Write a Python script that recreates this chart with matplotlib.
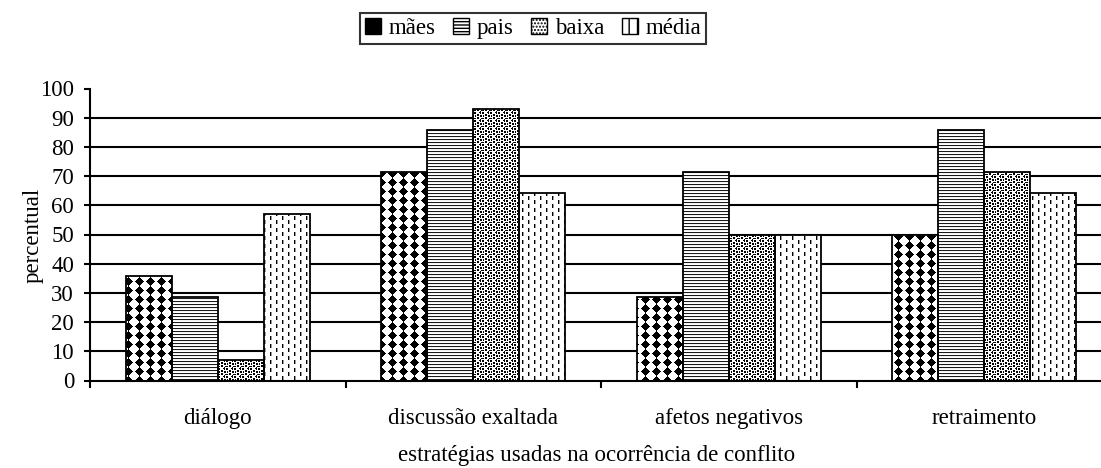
import numpy as np
import matplotlib
matplotlib.use("Agg")
import matplotlib.pyplot as plt
from matplotlib.path import Path
from matplotlib.patches import Patch

# ---------------- data ----------------
categories = ["diálogo", "discussão exaltada", "afetos negativos", "retraimento"]
series_names = ["mães", "pais", "baixa", "média"]
maes = [35.7, 71.4, 28.6, 50.0]
pais = [28.6, 85.7, 71.4, 85.7]
baixa = [7.1, 92.9, 50.0, 71.4]
media = [57.1, 64.3, 50.0, 64.3]
yticks = [0, 10, 20, 30, 40, 50, 60, 70, 80, 90, 100]
gridlines = [10, 20, 30, 40, 50, 60, 70, 80, 90]
xlabel = "estratégias usadas na ocorrência de conflito"
ylabel = "percentual"

series_values = [maes, pais, baixa, media]

# ---------------- texture tiles (1 = white, 0 = black) ----------------
def tile_maes():
    tw, th = 11, 9
    t = np.ones((th, tw))
    cx, cy = (tw - 1) / 2, (th - 1) / 2
    for y in range(th):
        for x in range(tw):
            dx, dy = abs(x - cx) / 4.4, abs(y - cy) / 4.0
            if dx ** 1.3 + dy ** 1.3 <= 1.0:
                t[y, x] = 0
    return t

def tile_pais():
    return np.array([[0.1], [0.95], [1.0]])

def tile_baixa():
    rows = ["##...##.",
            "##....#.",
            "...##...",
            ".#.##.##",
            ".#....##",
            "...##...",
            "##.##..#",
            "......#."]
    return np.array([[0.0 if c == "#" else 1.0 for c in r] for r in rows])

def tile_media():
    tw, th = 12, 8
    t = np.ones((th, tw))
    t[0:4, 0] = 0.0
    t[0:4, 1] = 0.6
    t[4:8, 6] = 0.0
    t[4:8, 7] = 0.6
    return t

tiles = [tile_maes(), tile_pais(), tile_baixa(), tile_media()]

# ---------------- figure ----------------
SERIF = ['Liberation Serif', 'DejaVu Serif']
plt.rcParams['font.family'] = SERIF
FS = 16.5
fig = plt.figure(figsize=(11.01, 4.68), dpi=100)
W_FIG, H_FIG = 1101, 468
ax_left, ax_right = 90, 1112
ax_top, ax_bottom = 88.5, 380.5
ax = fig.add_axes([ax_left / W_FIG, 1 - ax_bottom / H_FIG,
                   (ax_right - ax_left) / W_FIG, (ax_bottom - ax_top) / H_FIG])

n_cat = len(categories)
centers = np.arange(n_cat) + 0.5
bw = 0.18
offsets = (np.arange(len(series_names)) - 1.5) * bw

XLIM = (0, n_cat)
YLIM = (0, 100)

for g in gridlines:
    ax.axhline(g, color='black', lw=1.5, zorder=1)

bbox = ax.get_window_extent()
Wpx, Hpx = int(round(bbox.width)), int(round(bbox.height))

for i, (name, vals) in enumerate(zip(series_names, series_values)):
    bars = ax.bar(centers + offsets[i], vals, width=bw, color='white',
                  edgecolor='none', zorder=2)
    paths = [p.get_path().transformed(p.get_patch_transform()) for p in bars.patches]
    comp = Path.make_compound_path(*paths)
    t = tiles[i]
    th, tw = t.shape
    img = np.tile(t, (Hpx // th + 2, Wpx // tw + 2))[:Hpx, :Wpx]
    im = ax.imshow(img, cmap='gray', vmin=0, vmax=1, extent=(XLIM[0], XLIM[1], YLIM[0], YLIM[1]),
                   aspect='auto', interpolation='nearest', origin='upper', zorder=2.5)
    im.set_clip_path(comp, ax.transData)
    ax.bar(centers + offsets[i], vals, width=bw, fill=False,
           edgecolor='black', lw=1.3, zorder=3)

ax.set_xlim(*XLIM)
ax.set_ylim(*YLIM)
ax.set_aspect('auto')

for s in ['top', 'right']:
    ax.spines[s].set_visible(False)
for s in ['left', 'bottom']:
    ax.spines[s].set_linewidth(1.5)
    ax.spines[s].set_zorder(4)

ax.set_yticks(yticks)
ax.set_yticklabels([str(v) for v in yticks], fontsize=FS, family=SERIF)
ax.tick_params(axis='y', direction='out', length=4.5, width=1.5, pad=7)

ax.set_xticks(np.arange(n_cat + 1))
ax.set_xticklabels([])
ax.tick_params(axis='x', which='major', direction='out', length=5, width=1.5)
ax.set_xticks(centers, minor=True)
ax.set_xticklabels(categories, minor=True, fontsize=FS, family=SERIF)
ax.tick_params(axis='x', which='minor', length=0, pad=20)

fig.text(597 / W_FIG, 1 - 455 / H_FIG, xlabel, ha='center', va='center',
         fontsize=FS, family=SERIF)
fig.text(33 / W_FIG, 1 - 235 / H_FIG, ylabel, ha='center', va='center',
         rotation=90, fontsize=FS, family=SERIF)

plt.rcParams['hatch.linewidth'] = 1.0
handles = [
    Patch(facecolor='black', edgecolor='black', lw=1.0),
    Patch(facecolor='white', edgecolor='black', hatch='-----', lw=1.0),
    Patch(facecolor='white', edgecolor='black', hatch='.....', lw=1.0),
    Patch(facecolor='white', edgecolor='black', hatch='||', lw=1.0),
]
leg = fig.legend(handles, series_names, loc='center',
                 bbox_to_anchor=(533 / W_FIG, 1 - 28.5 / H_FIG), ncol=4,
                 prop={'family': SERIF, 'size': FS},
                 frameon=True, fancybox=False, borderpad=0.2,
                 handlelength=0.7, handleheight=0.7, handletextpad=0.35,
                 columnspacing=0.75, borderaxespad=0)
leg.get_frame().set_edgecolor('black')
leg.get_frame().set_linewidth(1.5)

fig.savefig("out.png", dpi=100)
